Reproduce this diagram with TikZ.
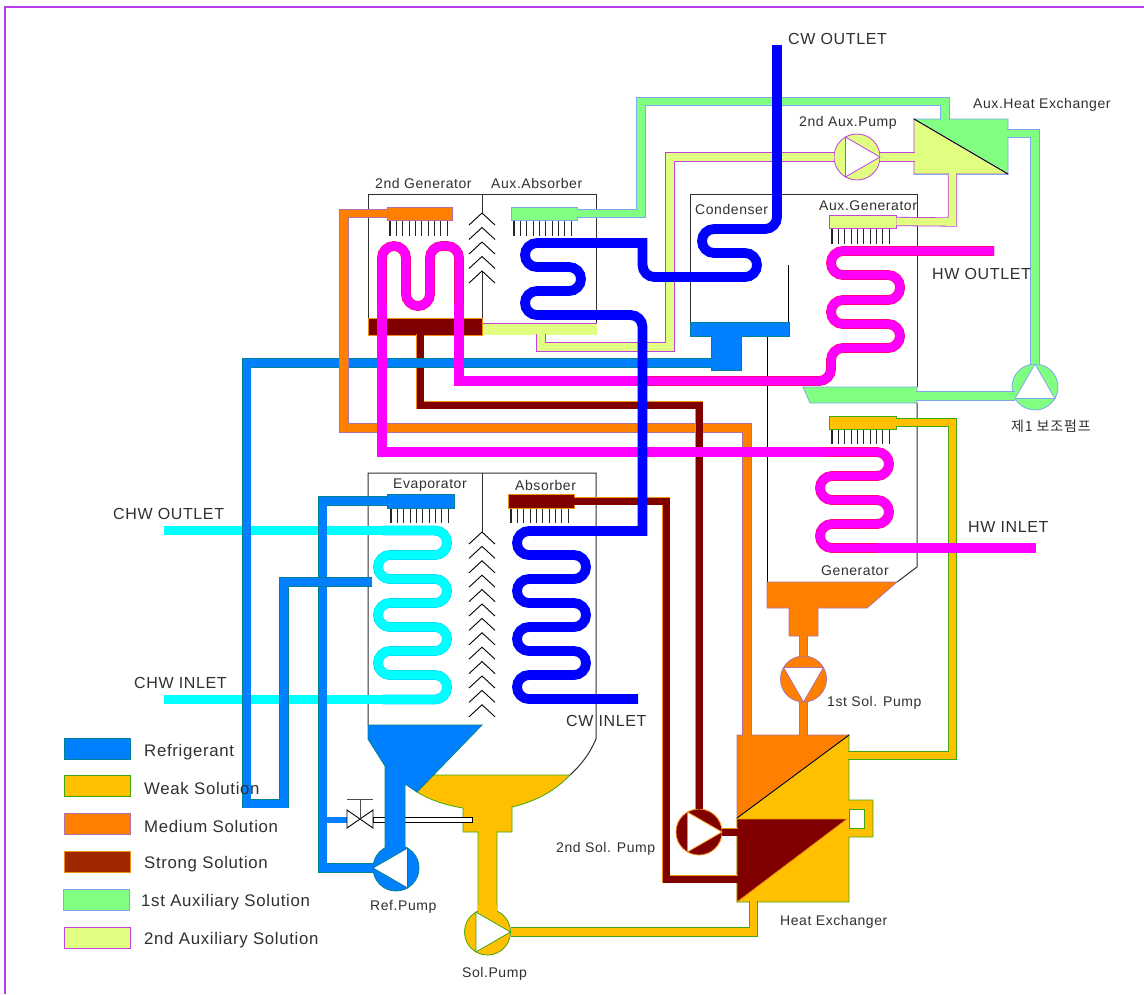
\documentclass[tikz,border=0pt]{standalone}
\usepackage{fontspec}
\setmainfont{Liberation Sans}[LetterSpace=4]
\newfontfamily\cjk[LetterSpace=6]{Noto Sans CJK KR}
\definecolor{ref}{HTML}{0080FF}\definecolor{refb}{HTML}{008090}
\definecolor{weak}{HTML}{FFC000}\definecolor{weakb}{HTML}{40A810}
\definecolor{med}{HTML}{FF8000}\definecolor{medb}{HTML}{B070A0}
\definecolor{strong}{HTML}{800000}\definecolor{strongb}{HTML}{F09010}
\definecolor{strongl}{HTML}{A02800}
\definecolor{auxa}{HTML}{80FF80}\definecolor{auxab}{HTML}{80A8F0}
\definecolor{auxb}{HTML}{E0FF80}\definecolor{auxbb}{HTML}{C040E0}
\definecolor{cwb}{HTML}{0000FF}\definecolor{chw}{HTML}{00FFFF}\definecolor{chwb}{HTML}{00D0FF}
\definecolor{hw}{HTML}{FF00FF}\definecolor{hwb}{HTML}{FF0050}
\definecolor{frame}{HTML}{B83CE8}\definecolor{txt}{HTML}{303030}\definecolor{wallc}{HTML}{303030}
\tikzset{
 pipeRef/.style={draw=refb,double=ref,double distance=8pt,line width=.8pt},
 pipeWeak/.style={draw=weakb,double=weak,double distance=7.6pt,line width=.8pt},
 pipeMed/.style={draw=medb,double=med,double distance=7.6pt,line width=.8pt},
 pipeStrong/.style={draw=strongb,double=strong,double distance=7pt,line width=.8pt},
 pipeA/.style={draw=auxab,double=auxa,double distance=7.6pt,line width=.8pt},
 pipeB/.style={draw=auxbb,double=auxb,double distance=7.6pt,line width=.8pt},
 pipeCW/.style={draw=cwb,line width=9.8pt},
 pipeChw/.style={draw=chwb,double=chw,double distance=8.8pt,line width=.5pt},
 plainChw/.style={draw=chw,line width=9.6pt},
 pipeHw/.style={draw=hwb,double=hw,double distance=8.8pt,line width=.5pt},
 plainHw/.style={draw=hw,line width=9.6pt},
 solidRef/.style={draw=refb,fill=ref,line width=.8pt},
 solidWeak/.style={draw=weakb,fill=weak,line width=.8pt},
 solidMed/.style={draw=medb,fill=med,line width=.8pt},
 solidStrong/.style={draw=strongb,fill=strong,line width=.8pt},
 solidA/.style={draw=auxab,fill=auxa,line width=.8pt},
 solidB/.style={draw=auxbb,fill=auxb,line width=.8pt},
 solidStrongL/.style={draw=strongb,fill=strongl,line width=.8pt},
 box/.style={rectangle,inner sep=0pt,minimum width=#1},
 pumpbody/.style={circle,inner sep=0pt,minimum size=46pt},
 wall/.style={draw=wallc,line width=1pt},
 tick/.style={draw=black!85,line width=1.1pt},
 lblS/.style={anchor=west,inner sep=0pt,text=txt,font=\fontsize{14}{16}\selectfont},
 lblM/.style={anchor=west,inner sep=0pt,text=txt,font=\fontsize{16}{18}\selectfont},
 lblL/.style={anchor=west,inner sep=0pt,text=txt,font=\fontsize{16.8}{19}\selectfont},
}
\newcommand\pumptri[3]{\draw[draw=#2,fill=white,line width=.8pt,line join=miter]
  ([shift={(#3:23)}]#1.center) -- ([shift={(#3+120:23)}]#1.center) -- ([shift={(#3+240:23)}]#1.center) -- cycle;}
\newcommand\chevron[1]{\draw[draw=black,line width=.9pt] (469,#1+12) -- (482,#1) -- (495,#1+12);}
\newcommand\sprayticks[3]{\foreach \i in {0,...,9}{\draw[tick] ({#1+\i*6.35},#2) -- ({#1+\i*6.35},#3);}}
\begin{document}
\begin{tikzpicture}[x=1pt,y=-1pt,line join=miter]
\useasboundingbox (0,0) rectangle (1144,994);
\fill[white] (0,0) rectangle (1144,994);
\draw[frame,line width=1.2pt] (1144,7) -- (5,7) -- (5,994);
% shells
\draw[wall] (368,318) -- (368,194) -- (596,194) -- (596,323);
\draw[wall] (482,194) -- (482,213);
\draw[wall] (482,271) -- (482,318);
\foreach \y in {213,227.5,242,256.5,271}{\chevron{\y}}
\draw[wall] (368,725) -- (368,473) -- (596,473) -- (596,739) .. controls (590,753) and (582,764) .. (570,775);
\draw[wall] (482,473) -- (482,532);
\foreach \y in {532,546.4,560.8,575.2,589.6,604,618.4,632.8,647.2,661.6,676,690.4,704.8}{\chevron{\y}}
\draw[wall] (690,322) -- (690,194) -- (917,194) -- (917,387);
\draw[wall] (917,403) -- (917,567) -- (897,582);
\draw[draw=black,line width=.9pt] (788,265) -- (788,322);
\draw[draw=black,line width=.9pt] (767,336) -- (767,582);
% spray ticks
\sprayticks{390}{220}{236}
\sprayticks{514}{220}{236}
\sprayticks{832}{228}{244}
\sprayticks{832}{429}{444}
\sprayticks{391}{508}{523}
\sprayticks{511}{508}{523}
% pump bodies
\node[pumpbody,solidB] (pumpAuxB) at (857,157) {};
\node[pumpbody,solidA] (pumpAuxA) at (1035,387) {};
\node[pumpbody,solidMed] (pumpSolA) at (803.5,679) {};
\node[pumpbody,solidStrong] (pumpSolB) at (699,832) {};
% 1st auxiliary (green)
\node[box=66pt,minimum height=13pt,solidA] (barAuxAbs) at (544,213.5) {};
\draw[solidA] (914,119) -- (1008,119) -- (1008,174) -- cycle;
\draw[solidA] (803,387) -- (917,387) -- (917,403) -- (810,403) -- cycle;
\draw[pipeA] (barAuxAbs.east) -| (641,101.5) -- (945,101.5) -- (945,120);
\draw[pipeA] (1007,133.5) -- (1035,133.5) -- (pumpAuxA.north);
\draw[pipeA] (916,396) -- (1015,396);
% 2nd auxiliary (yellow-green)
\draw[solidB] (914,119) -- (1008,174) -- (914,174) -- cycle;
\draw[auxab,line width=.8pt] (914,174) -- (1008,174);
\node[box=67pt,minimum height=13pt,solidB] (barAuxGen) at (862.5,221.5) {};
\node[box=115pt,minimum height=12pt,fill=auxb] (sumpAuxAbs) at (539.5,329) {};
\draw[auxbb,line width=.8pt] (482,323) -- (597,323);
\draw[pipeB] (915,157) -- (pumpAuxB.east);
\draw[pipeB] (952.5,173) -- (952.5,222) -- (barAuxGen.east);
\draw[pipeB] (541,334) -- (541,347) -- (670,347) -- (670,157) -- (pumpAuxB.west);
\draw[draw=black,line width=.8pt] (914,119) -- (1008,174);
% weak solution
\draw[solidWeak] (417,792) -- (431,775) -- (570,775) .. controls (553,793) and (533,802) .. (512,807) -- (512,832) -- (497,832) -- (497,912) -- (478,912) -- (478,832) -- (463,832) -- (463,808) .. controls (445,805) and (430,800) .. (417,792) -- cycle;
\node[pumpbody,solidWeak] (pumpSol) at (487.5,932) {};
\fill[weak] (478.4,905) rectangle (496.6,918);
\draw[solidWeak] (849,735) -- (849,800) -- (873,800) -- (873,837) -- (849,837) -- (849,902) -- (737,902) -- (737,818) -- cycle;
\node[box=15pt,minimum height=19pt,draw=weakb,fill=white,line width=.8pt] (hxHole) at (856.5,818.5) {};
\node[box=67pt,minimum height=13pt,solidWeak] (barGen) at (862.5,422.5) {};
\draw[pipeWeak] (pumpSol.east) -- (753.5,932) -- (753.5,901);
\draw[pipeWeak] (848,755.5) -- (952.5,755.5) -- (952.5,422.5) -- (barGen.east);
% valve line
\draw[fill=white,draw=black,line width=.9pt] (373,817) rectangle (472,822.5);
% strong solution
\node[box=114pt,minimum height=17pt,solidStrong] (sump2Gen) at (425,326.5) {};
\node[box=66pt,minimum height=14pt,solidStrong] (barAbs) at (541,501) {};
\draw[solidStrong] (737,819) -- (847,819) -- (737,902) -- cycle;
\draw[pipeStrong] (420,334) -- (420,405) -- (699,405) -- (pumpSolB.north);
\draw[pipeStrong] (barAbs.east) -- (666,501) -- (666,879) -- (738,879);
\draw[pipeStrong] (722,832) -- (738,832);
% chilled water
\draw[plainChw] (164,530.5) -- (384,530.5);
\draw[plainChw] (164,699.5) -- (384,699.5);
\draw[pipeChw] (383,530.5) [rounded corners=12pt] -- (447,530.5) -- (447,555) -- (378,555) -- (378,579) -- (447,579) -- (447,603) -- (378,603) -- (378,627) -- (447,627) -- (447,651) -- (378,651) -- (378,675) -- (447,675) -- (447,699.5) -- (383,699.5);
% refrigerant
\draw[solidRef] (690,322) rectangle (789,336);
\draw[solidRef] (711,336) rectangle (741,370);
\node[box=67pt,minimum height=14pt,solidRef] (barEvap) at (420.5,501) {};
\draw[solidRef] (368,725) -- (482,725) -- (417,792) -- (405,784) -- (405,852) -- (385,852) -- (385,766) -- (368,739) -- cycle;
\node[pumpbody,solidRef] (pumpRef) at (396,868) {};
\fill[ref] (385.4,840) rectangle (404.6,856);
\fill[ref] (323,817) rectangle (347,822.5);
\draw[pipeRef] (barEvap.west) -| (322.5,868) -- (pumpRef.west);
\draw[pipeRef] (712,363) -- (246.5,363) -- (246.5,803.5) -- (284,803.5) -- (284,582) -- (372,582);
\fill[ref] (711.5,330) rectangle (740.5,369);
% valve
\draw[fill=white,draw=black,line width=.9pt] (347,810) -- (373,828) -- (373,810) -- (347,828) -- cycle;
\draw[draw=black!70,line width=1pt] (360,799) -- (360,819);
\draw[draw=black!70,line width=1pt] (347,799) -- (373,799);
% medium solution
\node[box=65pt,minimum height=13pt,solidMed] (bar2Gen) at (419.5,213.5) {};
\draw[solidMed] (767,582) -- (897,582) -- (867,608) -- (818,608) -- (818,636) -- (789,636) -- (789,608) -- (767,608) -- cycle;
\draw[solidMed] (737,735) -- (849,735) -- (737,818) -- cycle;
\draw[draw=black,line width=.8pt] (849,735) -- (737,818);
\draw[pipeMed] (bar2Gen.west) -| (344,428) -- (747,428) -- (747,736);
\draw[pipeMed] (803.5,635) -- (pumpSolA.north);
\draw[pipeMed] (pumpSolA.south) -- (803.5,736);
\draw[pipeStrong] (699,415) -- (699,440);
% hot water
\draw[plainHw] (647,381) -- (459,381) -- (459,304);
\draw[pipeHw] (994,251) [rounded corners=12pt] -- (831,251) -- (831,275) -- (900,275) -- (900,300) -- (831,300) -- (831,324) -- (900,324) -- (900,348) -- (831,348) -- (831,381) -- (647,381);
\draw[pipeHw] (459,304) [rounded corners=12pt] -- (459,246) -- (430,246) -- (430,306) -- (406,306) -- (406,246) -- (382,246) -- (382,304);
\draw[plainHw] (382,304) -- (382,452) -- (826,452);
\draw[pipeHw] (825,452) [rounded corners=12pt] -- (889,452) -- (889,476) -- (820,476) -- (820,500) -- (889,500) -- (889,524) -- (820,524) -- (820,548) -- (877,548);
\draw[plainHw] (876,548) -- (1036,548);
% cooling water
\draw[pipeCW] (777,45) [rounded corners=12pt] -- (777,229) -- (702,229) -- (702,253) -- (757,253) -- (757,277) -- (642.5,277) [sharp corners] -- (642.5,243) [rounded corners=12pt] -- (525,243) -- (525,267) -- (581,267) -- (581,291) -- (525,291) -- (525,315) -- (642.5,315) [sharp corners] -- (642.5,531) [rounded corners=12pt] -- (517,531) -- (517,555) -- (586,555) -- (586,579) -- (517,579) -- (517,603) -- (586,603) -- (586,627) -- (517,627) -- (517,651) -- (586,651) -- (586,675) -- (517,675) -- (517,699) -- (638,699);
% pump triangles
\pumptri{pumpAuxB}{auxbb}{0}
\pumptri{pumpAuxA}{auxab}{-90}
\pumptri{pumpSolA}{medb}{90}
\pumptri{pumpSolB}{strongb}{0}
\pumptri{pumpRef}{refb}{180}
\pumptri{pumpSol}{weakb}{0}
% legend
\node[box=66pt,minimum height=21pt,solidRef] (legRef) at (97,748.5) {};
\node[box=66pt,minimum height=21pt,solidWeak] (legWeak) at (97,785.5) {};
\node[box=66pt,minimum height=21pt,solidMed] (legMed) at (97,823.5) {};
\node[box=66pt,minimum height=21pt,solidStrongL] (legStrong) at (97,861.5) {};
\node[box=66pt,minimum height=21pt,solidA] (legA) at (96,899.5) {};
\node[box=66pt,minimum height=21pt,solidB] (legB) at (97,937.5) {};
\node[lblL] (tRef) at (144,752) {Refrigerant};
\node[lblL] (tWeak) at (144,788) {Weak Solution};
\node[lblL] (tMed) at (144,826) {Medium Solution};
\node[lblL] (tStrong) at (144,864) {Strong Solution};
\node[lblL] (tA) at (141,902) {1st Auxiliary Solution};
\node[lblL] (tB) at (144,940) {2nd Auxiliary Solution};
% labels
\node[lblM] (tCWO) at (788,38.5) {CW OUTLET};
\node[lblM] (tCWI) at (566,720.5) {CW INLET};
\node[lblM] (tHWO) at (932,273.5) {HW OUTLET};
\node[lblM] (tHWI) at (968,526.5) {HW INLET};
\node[lblM] (tCHO) at (113,513.5) {CHW OUTLET};
\node[lblM] (tCHI) at (134,682.5) {CHW INLET};
\node[lblS] (tAHX) at (973,105) {Aux.Heat Exchanger};
\node[lblS] (tAP) at (799,123) {2nd Aux.Pump};
\node[lblS] (tCond) at (695,209) {Condenser};
\node[lblS] (tAG) at (819,206) {Aux.Generator};
\node[lblS] (t2G) at (375,183) {2nd Generator};
\node[lblS] (tAA) at (491,183) {Aux.Absorber};
\node[lblS,font=\cjk\fontsize{14}{16}\selectfont] (tP1) at (1011,426) {제1 보조펌프};
\node[lblS] (tEv) at (393,485) {Evaporator};
\node[lblS] (tAb) at (515,485) {Absorber};
\node[lblS] (tGen) at (821,571) {Generator};
\node[lblS] (tS1) at (827,703) {1st Sol. Pump};
\node[lblS] (tS2) at (556,849) {2nd Sol. Pump};
\node[lblS] (tRP) at (370,907) {Ref.Pump};
\node[lblS] (tSP) at (462,974) {Sol.Pump};
\node[lblS] (tHX) at (780,922) {Heat Exchanger};
\end{tikzpicture}
\end{document}
